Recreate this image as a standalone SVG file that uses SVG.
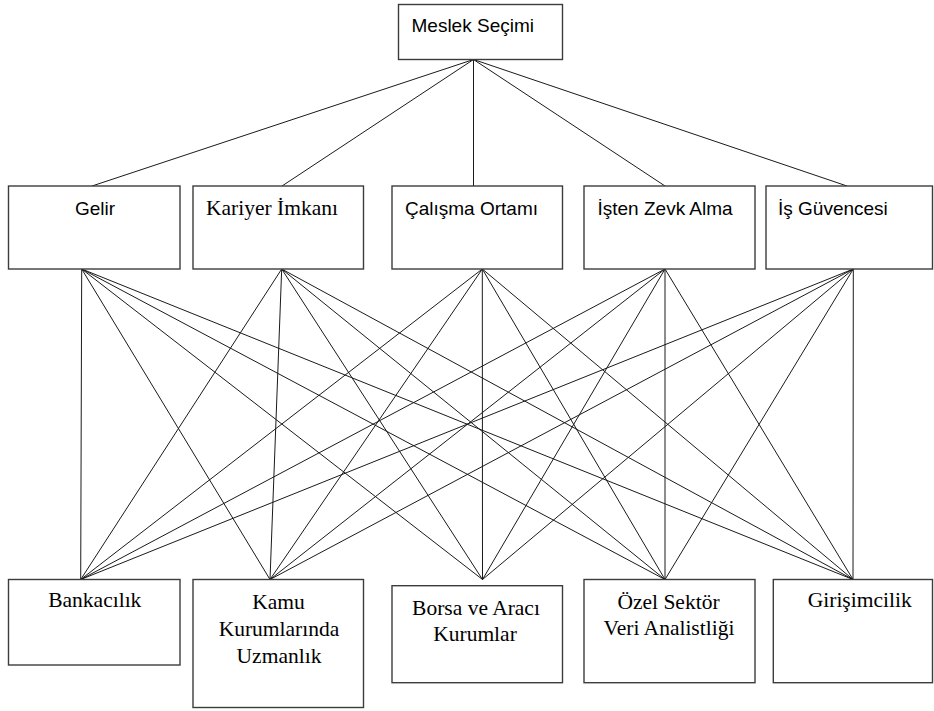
<svg xmlns="http://www.w3.org/2000/svg" width="934" height="711" viewBox="0 0 934 711">
<style>
.box{fill:#fff;stroke:#3c3c3c;stroke-width:1.4}
.sans{font-family:"Liberation Sans",Arial,sans-serif;font-size:19px;fill:#000}
.serif{font-family:"Liberation Serif","Times New Roman",serif;font-size:21.5px;fill:#000;text-anchor:middle}
#connectors line{stroke:#1a1a1a;stroke-width:1}
</style>
<rect width="934" height="711" fill="#fff"/>
<g id="connectors">
<line x1="473.5" y1="59.5" x2="92" y2="186"/>
<line x1="473.5" y1="59.5" x2="282" y2="186"/>
<line x1="473.5" y1="59.5" x2="473.5" y2="186"/>
<line x1="473.5" y1="59.5" x2="665" y2="186"/>
<line x1="473.5" y1="59.5" x2="847" y2="186"/>
<line x1="81.7" y1="269" x2="80.7" y2="579.5"/>
<line x1="81.7" y1="269" x2="270" y2="579.5"/>
<line x1="81.7" y1="269" x2="482.5" y2="579.5"/>
<line x1="81.7" y1="269" x2="665" y2="579.5"/>
<line x1="81.7" y1="269" x2="853" y2="579.5"/>
<line x1="281.7" y1="269" x2="80.7" y2="579.5"/>
<line x1="281.7" y1="269" x2="270" y2="579.5"/>
<line x1="281.7" y1="269" x2="482.5" y2="579.5"/>
<line x1="281.7" y1="269" x2="665" y2="579.5"/>
<line x1="281.7" y1="269" x2="853" y2="579.5"/>
<line x1="482.3" y1="269" x2="80.7" y2="579.5"/>
<line x1="482.3" y1="269" x2="270" y2="579.5"/>
<line x1="482.3" y1="269" x2="482.5" y2="579.5"/>
<line x1="482.3" y1="269" x2="665" y2="579.5"/>
<line x1="482.3" y1="269" x2="853" y2="579.5"/>
<line x1="665" y1="269" x2="80.7" y2="579.5"/>
<line x1="665" y1="269" x2="270" y2="579.5"/>
<line x1="665" y1="269" x2="482.5" y2="579.5"/>
<line x1="665" y1="269" x2="665" y2="579.5"/>
<line x1="665" y1="269" x2="853" y2="579.5"/>
<line x1="853.3" y1="269" x2="80.7" y2="579.5"/>
<line x1="853.3" y1="269" x2="270" y2="579.5"/>
<line x1="853.3" y1="269" x2="482.5" y2="579.5"/>
<line x1="853.3" y1="269" x2="665" y2="579.5"/>
<line x1="853.3" y1="269" x2="853" y2="579.5"/>
</g>
<g id="meslek-secimi">
<rect class="box" x="398.5" y="4.5" width="164" height="55"/>
<text class="sans" x="411.5" y="32">Meslek Seçimi</text>
</g>
<g id="gelir">
<rect class="box" x="8.5" y="186" width="171.5" height="83"/>
<text class="sans" x="75" y="215">Gelir</text>
</g>
<g id="kariyer-imkani">
<rect class="box" x="193" y="186" width="170.5" height="83"/>
<text class="serif" x="272" y="215">Kariyer İmkanı</text>
</g>
<g id="calisma-ortami">
<rect class="box" x="392" y="186" width="170.5" height="83"/>
<text class="sans" x="405" y="215">Çalışma Ortamı</text>
</g>
<g id="isten-zevk-alma">
<rect class="box" x="584" y="186" width="171" height="83"/>
<text class="sans" x="597.5" y="215">İşten Zevk Alma</text>
</g>
<g id="is-guvencesi">
<rect class="box" x="766" y="186" width="166.5" height="83"/>
<text class="sans" x="778" y="215">İş Güvencesi</text>
</g>
<g id="bankacilik">
<rect class="box" x="8.5" y="579.5" width="171.5" height="85.5"/>
<text class="serif" x="94.8" y="607">Bankacılık</text>
</g>
<g id="kamu-kurumlarinda-uzmanlik">
<rect class="box" x="193" y="579.5" width="170.5" height="128"/>
<text class="serif" x="278.5" y="608.5">Kamu</text>
<text class="serif" x="279" y="636">Kurumlarında</text>
<text class="serif" x="279" y="663">Uzmanlık</text>
</g>
<g id="borsa-ve-araci-kurumlar">
<rect class="box" x="392" y="585.7" width="170.5" height="97"/>
<text class="serif" x="476" y="615">Borsa ve Aracı</text>
<text class="serif" x="475" y="641">Kurumlar</text>
</g>
<g id="ozel-sektor-veri-analistligi">
<rect class="box" x="584" y="579.5" width="171" height="103.2"/>
<text class="serif" x="668.5" y="608.5">Özel Sektör</text>
<text class="serif" x="669" y="634.5">Veri Analistliği</text>
</g>
<g id="girisimcilik">
<rect class="box" x="773.3" y="579.5" width="159.2" height="103.2"/>
<text class="serif" x="859.7" y="607">Girişimcilik</text>
</g>
</svg>
